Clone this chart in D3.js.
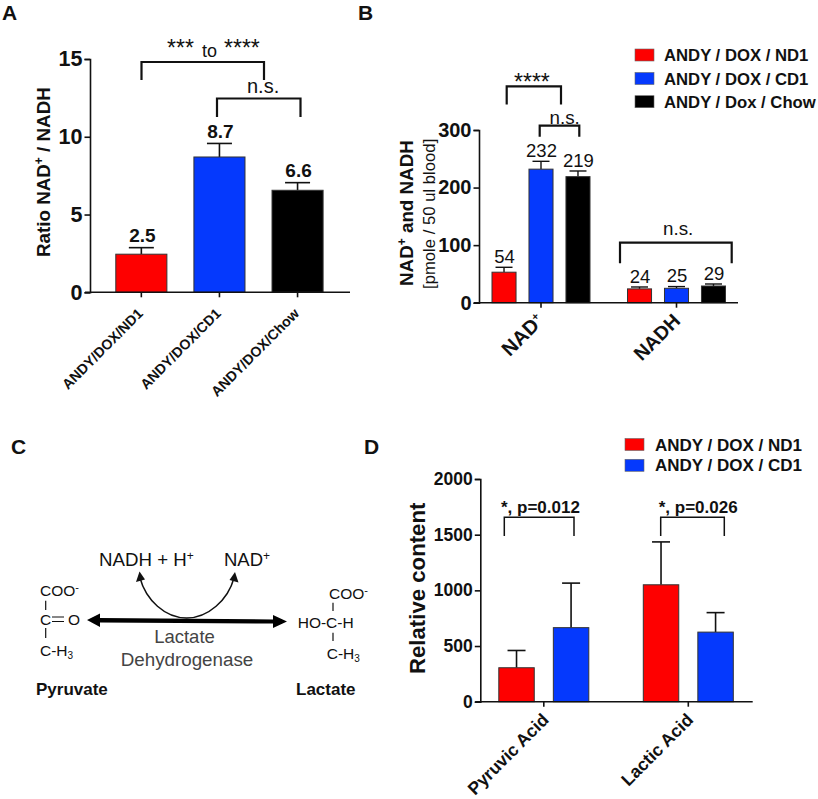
<!DOCTYPE html>
<html><head><meta charset="utf-8">
<script src="https://cdnjs.cloudflare.com/ajax/libs/d3/7.8.5/d3.min.js"></script>
<style>html,body{margin:0;padding:0;background:#fff}svg{display:block}text{font-family:"Liberation Sans",Arial,sans-serif;fill:#111}</style>
</head><body><svg id="c" width="818" height="799"></svg>
<script>
const RED="#fe0000",BLUE="#0539fd",BLACK="#000";
// Panel A
const aCats=["ANDY/DOX/ND1","ANDY/DOX/CD1","ANDY/DOX/Chow"];
const aVals=[2.45,8.7,6.56];
const aTops=[2.87,9.57,7.05];
const aLabels=["2.5","8.7","6.6"];
const aTicks=[0,5,10,15];
// Panel B
const bGroups=["NAD+","NADH"];
const bSeries=["ANDY / DOX / ND1","ANDY / DOX / CD1","ANDY / Dox / Chow"];
const bVals=[[53,232,219],[24,25,29]];
const bTops=[[61.5,245.6,228.8],[27.3,28,32.5]];
const bLabels=[["54","232","219"],["24","25","29"]];
const bTicks=[0,100,200,300];
// Panel D
const dGroups=["Pyruvic Acid","Lactic Acid"];
const dSeries=["ANDY / DOX / ND1","ANDY / DOX / CD1"];
const dVals=[[305,665],[1050,625]];
const dTops=[[460,1065],[1435,800]];
const dTicks=[0,500,1000,1500,2000];

const svg=d3.select("#c");
const colors=[RED,BLUE,BLACK];
function txt(g,x,y,s,o={}){
  const t=g.append("text").attr("x",x).attr("y",y).attr("font-size",o.size||14)
    .attr("font-weight",o.bold?"bold":"normal").attr("text-anchor",o.anchor||"start").text(s);
  if(o.fill)t.style("fill",o.fill);
  if(o.rot!=null)t.attr("transform",`rotate(${o.rot},${x},${y})`);
  return t;
}
function sup(t,s,size,dy){t.append("tspan").attr("font-size",size).attr("dy",dy).text(s);}
function bracket(x1,x2,y,yb1,yb2,w){
  svg.append("path").attr("d",`M${x1},${yb1}V${y}H${x2}V${yb2}`).attr("fill","none").attr("stroke","#111").attr("stroke-width",w||2.2);
}
function yAxis(y,x,ticks,size){
  const g=svg.append("g").attr("transform",`translate(${x},0)`)
    .call(d3.axisLeft(y).tickValues(ticks).tickSize(5.5).tickPadding(2).tickFormat(d3.format("d")));
  g.selectAll("path,line").attr("stroke","#111").attr("stroke-width",1.6);
  g.selectAll("text").attr("font-size",size).attr("font-weight","bold")
    .style("font-family",'"Liberation Sans",Arial,sans-serif');
  return g;
}
function xBase(y0,x0,x1,tickXs){
  svg.append("line").attr("x1",x0-5).attr("x2",x1).attr("y1",y0).attr("y2",y0).attr("stroke","#111").attr("stroke-width",1.6);
  svg.selectAll(null).data(tickXs).enter().append("line").attr("x1",d=>d).attr("x2",d=>d)
    .attr("y1",y0).attr("y2",y0+5).attr("stroke","#111").attr("stroke-width",1.6);
}
function bar(cx,w,val,top,y,color,capW,lw){
  const y0=y(0);
  svg.append("line").attr("x1",cx).attr("x2",cx).attr("y1",y(val)).attr("y2",y(top)).attr("stroke","#111").attr("stroke-width",lw||1.6);
  svg.append("line").attr("x1",cx-capW/2).attr("x2",cx+capW/2).attr("y1",y(top)).attr("y2",y(top)).attr("stroke","#111").attr("stroke-width",lw||1.6);
  svg.append("rect").attr("x",cx-w/2).attr("width",w).attr("y",y(val)).attr("height",y0-y(val))
    .attr("fill",color).attr("stroke","#333").attr("stroke-width",1);
}
function legend(x,ys,names,w,h,size,tx){
  names.forEach((n,i)=>{
    svg.append("rect").attr("x",x).attr("y",ys[i]-h/2).attr("width",w).attr("height",h).attr("fill",colors[i]).attr("stroke","#666").attr("stroke-width",.6);
    txt(svg,tx,ys[i]+size*0.36,n,{size,bold:true});
  });
}
// letters
[["A",2,20],["B",358,20],["C",11,454],["D",364,454]].forEach(a=>txt(svg,a[1],a[2],a[0],{size:21,bold:true}));

// ---- A
{
  const y=d3.scaleLinear().domain([0,15]).range([292.3,59]);
  const x=d3.scaleBand().domain(aCats).range([115.8,323.1]).paddingInner(.346).paddingOuter(0);
  yAxis(y,90,aTicks,21.5);
  aCats.forEach((c,i)=>{
    const cx=x(c)+x.bandwidth()/2;
    bar(cx,x.bandwidth(),aVals[i],aTops[i],y,colors[i],25,1.6);
    txt(svg,cx+1,y(aTops[i])-5.3,aLabels[i],{size:19,bold:true,anchor:"middle"});
    txt(svg,cx+2.5,314.5,c,{size:14.2,bold:true,anchor:"end",rot:-45});
  });
  xBase(292.3,90,350,aCats.map(c=>x(c)+x.bandwidth()/2));
  const t=txt(svg,50,257,"Ratio NAD",{size:18.8,bold:true,rot:-90});
  sup(t,"+",12,-7); t.append("tspan").attr("dy",7).text(" / NADH");
  bracket(141.5,264,62,80,80);
  bracket(217,300.5,98.5,117,117);
  txt(svg,167,56,"***",{size:23});
  txt(svg,202,57.3,"to",{size:18});
  txt(svg,224,56,"****",{size:23});
  txt(svg,247,93.3,"n.s.",{size:20});
}
// ---- B
{
  const y=d3.scaleLinear().domain([0,300]).range([302.7,130]);
  const x=d3.scaleBand().domain(bGroups).range([473.25,744.25]).padding(0);
  yAxis(y,479,bTicks,20);
  bGroups.forEach((g,gi)=>{
    const cx0=x(g)+x.bandwidth()/2;
    const inner=d3.scaleBand().domain(bSeries).range([cx0-49,cx0+49]).paddingInner(.35).paddingOuter(0);
    bSeries.forEach((s,i)=>{
      const cx=inner(s)+inner.bandwidth()/2;
      bar(cx,inner.bandwidth(),bVals[gi][i],bTops[gi][i],y,colors[i],17,1.4);
      txt(svg,cx+0.5,y(bTops[gi][i])-4.3,bLabels[gi][i],{size:18.5,anchor:"middle"});
    });
  });
  xBase(302.7,479,738,bGroups.map(g=>x(g)+x.bandwidth()/2));
  const cx=bGroups.map(g=>x(g)+x.bandwidth()/2);
  const a=txt(svg,cx[0]+4,322,"NAD",{size:20,bold:true,anchor:"end",rot:-45});
  sup(a,"+",11,-7);
  txt(svg,cx[1]+5,322,"NADH",{size:19.5,bold:true,anchor:"end",rot:-45});
  const t=txt(svg,413,286,"NAD",{size:18.8,bold:true,rot:-90});
  sup(t,"+",12,-7); t.append("tspan").attr("dy",7).text(" and NADH");
  txt(svg,435,289,"[pmole / 50 ul blood]",{size:16.7,rot:-90});
  bracket(506.7,561,86.3,104.5,104.5);
  bracket(539.7,579.3,125.7,136.7,136.7);
  bracket(620,731.7,242.7,263.3,263.3);
  txt(svg,514,90,"****",{size:23});
  txt(svg,549.5,124,"n.s.",{size:18.8});
  txt(svg,663,235,"n.s.",{size:18.8});
  legend(635,[55,78.5,101.7],bSeries,19,12,16.7,664);
}
// ---- D
{
  const y=d3.scaleLinear().domain([0,2000]).range([701.7,479]);
  const x=d3.scaleBand().domain(dGroups).range([471.55,760.55]).padding(0);
  yAxis(y,480.3,dTicks,17.5);
  const cx=[];
  dGroups.forEach((g,gi)=>{
    const cx0=x(g)+x.bandwidth()/2; cx.push(cx0);
    const inner=d3.scaleBand().domain(dSeries).range([cx0-45,cx0+45]).paddingInner(.35).paddingOuter(0);
    dSeries.forEach((s,i)=>{
      const c=inner(s)+inner.bandwidth()/2;
      bar(c,inner.bandwidth(),dVals[gi][i],dTops[gi][i],y,colors[i],18,1.6);
    });
    txt(svg,cx0+6,721,g,{size:17.6,bold:true,anchor:"end",rot:-45});
  });
  xBase(701.7,480.3,752.7,cx);
  txt(svg,425,674,"Relative content",{size:22.2,bold:true,rot:-90});
  bracket(504.3,574,517.3,536,536,1.5);
  bracket(660.7,724.3,517.3,536,536,1.5);
  txt(svg,501,513.3,"*, p=0.012",{size:17,bold:true});
  txt(svg,658.7,513.3,"*, p=0.026",{size:17,bold:true});
  legend(625,[444.5,465.3],dSeries,19,12,17,655);
}
// ---- C
{
  const c=svg.append("g");
  const t1=txt(c,99,566,"NADH + H",{size:18.7}); sup(t1,"+",12,-6);
  const t2=txt(c,224,566,"NAD",{size:18.5}); sup(t2,"+",12,-6);
  c.append("path").attr("d","M140,578C146,600 165,618 186.7,618C208,618 228,600 234,578").attr("fill","none").attr("stroke","#111").attr("stroke-width",1.5);
  c.append("path").attr("d","M139.5,571.5L136,582L145,579.5Z").attr("fill","#111");
  c.append("path").attr("d","M235,572L229.5,580L238.5,582.5Z").attr("fill","#111");
  c.append("path").attr("d","M87,620L100,613.5V618L273,619.5V615L287,621.5L273,628V623.5L100,622.5V627Z").attr("fill","#000");
  txt(c,184.5,643,"Lactate",{size:18.5,anchor:"middle",fill:"#444"});
  txt(c,187,666,"Dehydrogenase",{size:18.8,anchor:"middle",fill:"#444"});
  txt(c,36,695,"Pyruvate",{size:17,bold:true});
  txt(c,296,695,"Lactate",{size:17,bold:true});
  const m=15.5;
  let t=txt(c,40,596,"COO",{size:m}); sup(t,"-",11,-5);
  c.append("line").attr("x1",45.7).attr("x2",45.7).attr("y1",600.7).attr("y2",610).attr("stroke","#111").attr("stroke-width",1.2);
  txt(c,40,625,"C",{size:m});
  c.append("path").attr("d","M52,617H64M52,621.5H64").attr("stroke","#111").attr("stroke-width",1.2);
  txt(c,68,625,"O",{size:m});
  c.append("line").attr("x1",45.7).attr("x2",45.7).attr("y1",628).attr("y2",638).attr("stroke","#111").attr("stroke-width",1.2);
  t=txt(c,40,656,"C-H",{size:m}); t.append("tspan").attr("font-size",10).attr("dy",3).text("3");
  t=txt(c,329,599,"COO",{size:m}); sup(t,"-",11,-5);
  c.append("line").attr("x1",333).attr("x2",333).attr("y1",602.7).attr("y2",611).attr("stroke","#111").attr("stroke-width",1.2);
  txt(c,297.7,628,"HO-C-H",{size:m});
  c.append("line").attr("x1",333).attr("x2",333).attr("y1",632.7).attr("y2",641).attr("stroke","#111").attr("stroke-width",1.2);
  t=txt(c,326.7,659,"C-H",{size:m}); t.append("tspan").attr("font-size",10).attr("dy",3).text("3");
}
</script></body></html>
